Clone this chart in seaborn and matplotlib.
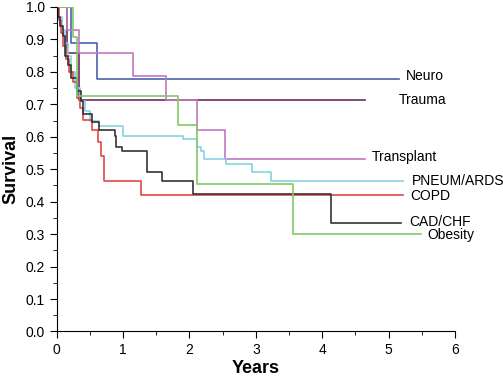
import pandas as pd
import matplotlib.pyplot as plt
import seaborn as sns
from matplotlib.ticker import MultipleLocator

# Kaplan-Meier step data (years, survival)
neuro_t = [0, 0.21, 0.61, 5.16]
neuro_s = [1.0, 0.889, 0.778, 0.778]

trauma_t = [0, 0.16, 0.34, 4.65]
trauma_s = [1.0, 0.857, 0.714, 0.714]

transplant_t = [0, 0.16, 0.34, 1.15, 1.65, 2.11, 2.53, 4.65]
transplant_s = [1.0, 0.929, 0.857, 0.786, 0.714, 0.62, 0.532, 0.532]

pneum_t = [0, 0.04, 0.08, 0.12, 0.17, 0.22, 0.28, 0.35, 0.42, 0.50, 0.64,
           1.0, 1.90, 2.11, 2.17, 2.22, 2.55, 2.94, 3.23, 5.21]
pneum_s = [1.0, 0.97, 0.93, 0.89, 0.85, 0.80, 0.75, 0.71, 0.68, 0.648, 0.634,
           0.603, 0.593, 0.570, 0.555, 0.532, 0.516, 0.493, 0.465, 0.465]

copd_t = [0, 0.03, 0.06, 0.10, 0.14, 0.18, 0.24, 0.30, 0.35, 0.40, 0.53,
          0.62, 0.66, 0.71, 1.27, 5.21]
copd_s = [1.0, 0.96, 0.92, 0.88, 0.84, 0.80, 0.77, 0.72, 0.69, 0.653, 0.622,
          0.583, 0.542, 0.465, 0.421, 0.421]

cad_t = [0, 0.02, 0.05, 0.09, 0.12, 0.17, 0.22, 0.30, 0.36, 0.40, 0.53,
         0.64, 0.88, 0.90, 0.99, 1.36, 1.58, 2.05, 4.13, 5.19]
cad_s = [1.0, 0.97, 0.94, 0.91, 0.85, 0.82, 0.78, 0.74, 0.71, 0.67, 0.645,
         0.622, 0.603, 0.57, 0.555, 0.493, 0.465, 0.423, 0.333, 0.333]

obesity_t = [0, 0.25, 0.31, 1.83, 2.11, 3.56, 5.49]
obesity_s = [1.0, 0.909, 0.727, 0.636, 0.455, 0.30, 0.30]

groups = ["Neuro", "Trauma", "Transplant", "PNEUM/ARDS", "COPD", "CAD/CHF", "Obesity"]
colors = ["#4a62b0", "#6e2a68", "#c477bd", "#86d2e2", "#e24848", "#333333", "#82c86a"]

# label positions (years, survival)
label_x = [5.26, 5.15, 4.75, 5.35, 5.32, 5.31, 5.58]
label_y = [0.786, 0.714, 0.539, 0.465, 0.418, 0.337, 0.296]

curves = [(neuro_t, neuro_s), (trauma_t, trauma_s), (transplant_t, transplant_s),
          (pneum_t, pneum_s), (copd_t, copd_s), (cad_t, cad_s), (obesity_t, obesity_s)]

frames = []
for name, (t, s) in zip(groups, curves):
    frames.append(pd.DataFrame({"Years": t, "Survival": s, "group": name}))
df = pd.concat(frames, ignore_index=True)

plt.rcParams["font.family"] = ["Liberation Sans", "DejaVu Sans"]

fig = plt.figure(figsize=(5.03, 3.82), dpi=100)
ax = fig.add_axes([0.1127, 0.1322, 0.792, 0.8495])

sns.lineplot(data=df, x="Years", y="Survival", hue="group", hue_order=groups,
             palette=dict(zip(groups, colors)), drawstyle="steps-post",
             estimator=None, sort=False, linewidth=1.2, legend=False, ax=ax)

for name, x, y in zip(groups, label_x, label_y):
    ax.text(x, y, name, fontsize=10, va="center", ha="left")

ax.set_xlim(0, 6)
ax.set_ylim(0, 1.0)
ax.xaxis.set_major_locator(MultipleLocator(1))
ax.xaxis.set_minor_locator(MultipleLocator(0.5))
ax.yaxis.set_major_locator(MultipleLocator(0.1))
ax.yaxis.set_minor_locator(MultipleLocator(0.05))
ax.yaxis.set_major_formatter(plt.FormatStrFormatter("%.1f"))
ax.tick_params(which="major", direction="out", length=5, labelsize=10)
ax.tick_params(which="minor", direction="out", length=3)
for side in ["top", "right"]:
    ax.spines[side].set_visible(False)
ax.set_xlabel("Years", fontsize=13, fontweight="bold", labelpad=2)
ax.set_ylabel("Survival", fontsize=13, fontweight="bold", labelpad=4)

fig.savefig("out.png", dpi=100)
